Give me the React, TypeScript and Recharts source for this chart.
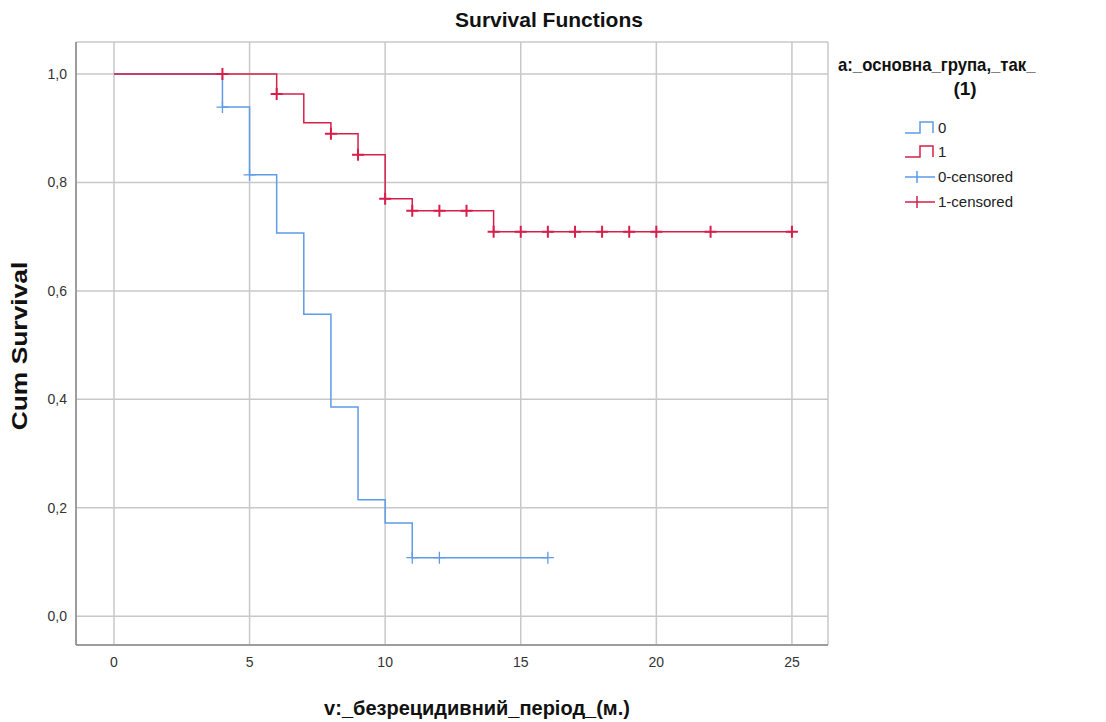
import React from 'react';
import { ComposedChart, Line, Scatter, XAxis, YAxis, CartesianGrid } from 'recharts';

// group 0: step points (time, survival)
const group0Times = [0, 4, 5, 6, 7, 8, 9, 10, 11, 16];
const group0Surv = [1, 0.939, 0.814, 0.707, 0.557, 0.386, 0.215, 0.172, 0.108, 0.108];
const group0CensTimes = [4, 5, 11, 12, 16];
const group0CensSurv = [0.939, 0.814, 0.108, 0.108, 0.108];

// group 1
const group1Times = [0, 6, 7, 8, 9, 10, 11, 14, 25];
const group1Surv = [1, 0.963, 0.91, 0.89, 0.851, 0.77, 0.748, 0.709, 0.709];
const group1CensTimes = [4, 6, 8, 9, 10, 11, 12, 13, 14, 15, 16, 17, 18, 19, 20, 22, 25];
const group1CensSurv = [1, 0.963, 0.89, 0.851, 0.77, 0.748, 0.748, 0.748, 0.709, 0.709, 0.709, 0.709, 0.709, 0.709, 0.709, 0.709, 0.709];

const xTicks = [0, 5, 10, 15, 20, 25];
const yTicks = [0, 0.2, 0.4, 0.6, 0.8, 1.0];
const legendLabels = ['0', '1', '0-censored', '1-censored'];

const BLUE = '#5e9ce8';
const RED = '#d61f4b';
const FONT = '"Liberation Sans", Arial, sans-serif';

const zip = (xs: number[], ys: number[]) => xs.map((x, i) => ({ x, y: ys[i] }));

const g0 = zip(group0Times, group0Surv);
const g1 = zip(group1Times, group1Surv);
const c0 = zip(group0CensTimes, group0CensSurv);
const c1 = zip(group1CensTimes, group1CensSurv);

const plus = (color: string, w: number) => (props: any) => {
  const { cx, cy } = props;
  return (
    <path
      d={`M${cx - 6},${cy}H${cx + 6}M${cx},${cy - 6}V${cy + 6}`}
      stroke={color}
      strokeWidth={w}
      fill="none"
    />
  );
};

function StepIcon({ color }: { color: string }) {
  return (
    <svg width={32} height={16} style={{ display: 'block' }}>
      <path d="M1,13H16V2H29V13" stroke={color} strokeWidth={1.5} fill="none" />
    </svg>
  );
}

function PlusIcon({ color }: { color: string }) {
  return (
    <svg width={32} height={16} style={{ display: 'block' }}>
      <path d="M1,8H31M13,2V14" stroke={color} strokeWidth={1.5} fill="none" />
    </svg>
  );
}

export default function App() {
  const colors = [BLUE, RED, BLUE, RED];
  return (
    <div style={{ position: 'absolute', left: 0, top: 0, width: 1106, height: 722, background: '#fff', fontFamily: FONT }}>
      <ComposedChart width={1106} height={722} margin={{ top: 42, right: 278, bottom: 47, left: 16 }}>
        <CartesianGrid stroke="#c8c8c8" strokeWidth={1.5} />
        <XAxis
          dataKey="x"
          type="number"
          domain={[-1.4, 26.33]}
          ticks={xTicks}
          allowDataOverflow
          height={30}
          tickSize={0}
          tickMargin={12}
          axisLine={{ stroke: '#8a8a8a', strokeWidth: 1.5 }}
          tick={{ fill: '#333', fontSize: 14, fontFamily: FONT }}
        />
        <YAxis
          dataKey="y"
          type="number"
          domain={[-0.053, 1.059]}
          ticks={yTicks}
          allowDataOverflow
          width={60}
          tickSize={0}
          tickMargin={9}
          tickFormatter={(v: number) => v.toFixed(1).replace('.', ',')}
          axisLine={{ stroke: '#8a8a8a', strokeWidth: 1.5 }}
          tick={{ fill: '#333', fontSize: 14, fontFamily: FONT }}
        />
        <Line data={g0} dataKey="y" type="stepAfter" stroke={BLUE} strokeWidth={1.5} dot={false} isAnimationActive={false} />
        <Line data={g1} dataKey="y" type="stepAfter" stroke={RED} strokeWidth={1.5} dot={false} isAnimationActive={false} />
        <Scatter data={c0} dataKey="y" shape={plus(BLUE, 1.3)} isAnimationActive={false} />
        <Scatter data={c1} dataKey="y" shape={plus(RED, 2)} isAnimationActive={false} />
      </ComposedChart>

      <div
        style={{
          position: 'absolute', left: 549, top: 20, transform: 'translate(-50%, -50%)',
          whiteSpace: 'nowrap', fontSize: 21, fontWeight: 'bold', color: '#111',
        }}
      >
        Survival Functions
      </div>
      <div
        style={{
          position: 'absolute', left: 20, top: 346, transform: 'translate(-50%, -50%) rotate(-90deg) scaleX(1.2)',
          whiteSpace: 'nowrap', fontSize: 22, fontWeight: 'bold', color: '#111',
        }}
      >
        Cum Survival
      </div>
      <div
        style={{
          position: 'absolute', left: 477, top: 708, transform: 'translate(-50%, -50%)',
          whiteSpace: 'nowrap', fontSize: 20, fontWeight: 'bold', color: '#111',
        }}
      >
        v:_безрецидивний_період_(м.)
      </div>

      <div
        style={{
          position: 'absolute', left: 838, top: 54, fontSize: 19, fontWeight: 'bold', color: '#111',
          whiteSpace: 'nowrap', transform: 'scaleX(0.88)', transformOrigin: 'left center',
        }}
      >
        a:_основна_група,_так_
      </div>
      <div style={{ position: 'absolute', left: 965, top: 78, transform: 'translateX(-50%)', fontSize: 19, fontWeight: 'bold', color: '#111' }}>
        (1)
      </div>
      {legendLabels.map((lab, i) => (
        <div
          key={lab}
          style={{ position: 'absolute', left: 904, top: [119, 143, 168, 193][i], display: 'flex', alignItems: 'center', fontSize: 15, color: '#222' }}
        >
          {i < 2 ? <StepIcon color={colors[i]} /> : <PlusIcon color={colors[i]} />}
          <span style={{ marginLeft: 2 }}>{lab}</span>
        </div>
      ))}
    </div>
  );
}
